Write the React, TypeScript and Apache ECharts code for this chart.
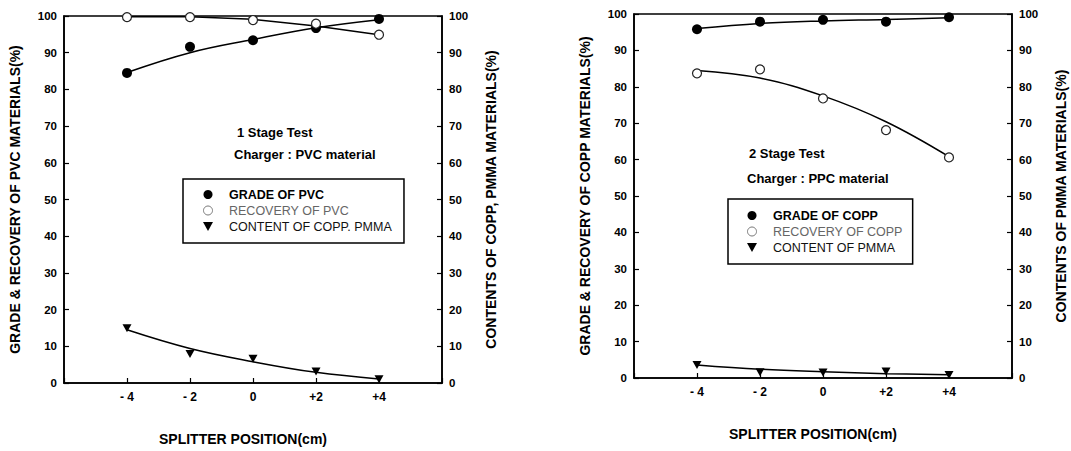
import React, { useEffect, useRef } from 'react';
import * as echarts from 'echarts';

// Splitter positions (cm) and their tick labels
const positions = [-4, -2, 0, 2, 4];
const xTickLabels = ['- 4', '- 2', '0', '+2', '+4'];

// Stage 1 (Charger : PVC material)
const gradePVC = [84.5, 91.6, 93.4, 96.7, 99.2];
const gradePVCFit = [84.6, 90.0, 93.6, 96.8, 99.0];
const recoveryPVC = [99.7, 99.7, 98.9, 97.9, 94.9];
const recoveryPVCFit = [99.8, 99.8, 99.1, 97.3, 94.9];
const contentCoppPmma = [14.9, 7.9, 6.6, 3.1, 1.0];
const contentCoppPmmaFit = [14.5, 9.4, 5.8, 2.9, 1.1];

// Stage 2 (Charger : PPC material)
const gradeCOPP = [95.8, 97.9, 98.4, 97.9, 99.1];
const gradeCOPPFit = [96.0, 97.4, 98.1, 98.5, 99.0];
const recoveryCOPP = [83.7, 84.8, 76.8, 68.1, 60.6];
const recoveryCOPPFit = [84.5, 82.4, 77.5, 70.4, 60.8];
const contentPMMA = [3.6, 1.6, 1.5, 1.8, 0.8];
const contentPMMAFit = [3.6, 2.4, 1.7, 1.2, 0.9];

const FONT = '"Liberation Sans", Arial, Helvetica, sans-serif';
const TRI = 'path://M0,0L10,0L5,9Z';

const pairs = (vals: number[]) => positions.map((p, i) => [p, vals[i]]);

export default function App() {
  const ref = useRef<HTMLDivElement>(null);

  useEffect(() => {
    if (!ref.current) return;
    const chart = echarts.init(ref.current, null, { renderer: 'svg' });

    const grids = [
      { left: 64, top: 16, width: 378, height: 367 },
      { left: 634, top: 14, width: 378, height: 364 },
    ];

    const xAxisFor = (gi: number) => ({
      type: 'value',
      gridIndex: gi,
      min: -6,
      max: 6,
      interval: 2,
      axisLine: { show: true, onZero: false, lineStyle: { color: '#000', width: 1.6 } },
      axisTick: { show: true, inside: true, length: 5, lineStyle: { color: '#000', width: 1.2 } },
      axisLabel: {
        color: '#000',
        fontFamily: FONT,
        fontWeight: 'bold',
        fontSize: 12,
        margin: 8,
        formatter: (v: number) => {
          const i = positions.indexOf(v);
          return i >= 0 ? xTickLabels[i] : '';
        },
      },
      splitLine: { show: false },
      name: 'SPLITTER POSITION(cm)',
      nameLocation: 'middle',
      nameGap: 49,
      nameTextStyle: {
        color: '#000',
        fontFamily: FONT,
        fontWeight: 'bold',
        fontSize: 14,
        padding: [0, 20, 0, 0],
      },
    });

    const yAxisFor = (gi: number, position: 'left' | 'right', name: string) => ({
      type: 'value',
      gridIndex: gi,
      position,
      min: 0,
      max: 100,
      interval: 10,
      axisLine: { show: true, onZero: false, lineStyle: { color: '#000', width: 1.6 } },
      axisTick: { show: true, inside: true, length: 5, lineStyle: { color: '#000', width: 1.2 } },
      axisLabel: {
        color: '#000',
        fontFamily: FONT,
        fontWeight: 'bold',
        fontSize: 11.5,
        margin: 7,
      },
      splitLine: { show: false },
      name,
      nameLocation: 'middle',
      nameRotate: 90,
      nameGap: 42,
      nameTextStyle: {
        color: '#000',
        fontFamily: FONT,
        fontWeight: 'bold',
        fontSize: 14,
      },
    });

    const scatter = (name: string, xi: number, yi: number, vals: number[], kind: 'filled' | 'open' | 'tri') => ({
      name,
      type: 'scatter',
      xAxisIndex: xi,
      yAxisIndex: yi,
      data: pairs(vals),
      symbol: kind === 'tri' ? TRI : 'circle',
      symbolSize: kind === 'tri' ? [9, 8] : kind === 'filled' ? 10 : 9,
      itemStyle:
        kind === 'open'
          ? { color: '#fff', borderColor: '#222', borderWidth: 1.2, opacity: 1 }
          : { color: '#000', opacity: 1 },
      z: 4,
    });

    const fit = (name: string, xi: number, yi: number, vals: number[], smooth: boolean) => ({
      name,
      type: 'line',
      xAxisIndex: xi,
      yAxisIndex: yi,
      data: pairs(vals),
      smooth: smooth ? 0.4 : false,
      showSymbol: false,
      symbol: 'none',
      lineStyle: { color: '#000', width: 1.5 },
      silent: true,
      z: 3,
    });

    const legendFor = (left: number, top: number, names: string[], pad: number[]) => ({
      orient: 'vertical',
      left,
      top,
      padding: pad,
      itemGap: 3,
      itemWidth: 10,
      itemHeight: 9,
      borderColor: '#000',
      borderWidth: 1.5,
      backgroundColor: '#fff',
      selectedMode: false,
      textStyle: {
        fontFamily: FONT,
        fontSize: 12.5,
        lineHeight: 13,
        color: '#111',
        padding: [0, 0, 0, 11],
      },
      data: [
        {
          name: names[0],
          icon: 'circle',
          itemStyle: { color: '#000', opacity: 1 },
          textStyle: { fontWeight: 'bold', color: '#000' },
        },
        {
          name: names[1],
          icon: 'circle',
          itemStyle: { color: '#fff', borderColor: '#777', borderWidth: 1, opacity: 1 },
          textStyle: { color: '#666' },
        },
        {
          name: names[2],
          icon: TRI,
          itemStyle: { color: '#000', opacity: 1 },
          textStyle: { color: '#111' },
        },
      ],
    });

    const annotation = (left: number, top: number, text: string) => ({
      type: 'text',
      left,
      top,
      style: { text, fill: '#000', font: `bold 13px ${FONT}` },
    });

    const names1 = ['GRADE OF PVC', 'RECOVERY OF PVC', 'CONTENT OF COPP. PMMA'];
    const names2 = ['GRADE OF COPP', 'RECOVERY OF COPP', 'CONTENT OF PMMA'];

    chart.setOption({
      animation: false,
      backgroundColor: '#fff',
      grid: grids.map((g) => ({ ...g, show: true, borderColor: '#000', borderWidth: 1.6, containLabel: false })),
      xAxis: [xAxisFor(0), xAxisFor(1)],
      yAxis: [
        yAxisFor(0, 'left', 'GRADE & RECOVERY OF PVC MATERIALS(%)'),
        yAxisFor(0, 'right', 'CONTENTS OF COPP, PMMA MATERIALS(%)'),
        yAxisFor(1, 'left', 'GRADE & RECOVERY OF COPP MATERIALS(%)'),
        yAxisFor(1, 'right', 'CONTENTS OF PMMA MATERIALS(%)'),
      ],
      legend: [
        legendFor(183, 179, names1, [9, 12, 10, 20]),
        legendFor(728, 199, names2, [10, 10, 10, 19]),
      ],
      graphic: [
        annotation(237, 126, '1 Stage Test'),
        annotation(234, 148, 'Charger : PVC material'),
        annotation(749, 147, '2 Stage Test'),
        annotation(747, 172, 'Charger : PPC material'),
      ],
      series: [
        scatter(names1[0], 0, 0, gradePVC, 'filled'),
        scatter(names1[1], 0, 0, recoveryPVC, 'open'),
        scatter(names1[2], 0, 1, contentCoppPmma, 'tri'),
        fit(names1[0], 0, 0, gradePVCFit, true),
        fit(names1[1], 0, 0, recoveryPVCFit, false),
        fit(names1[2], 0, 1, contentCoppPmmaFit, true),
        scatter(names2[0], 1, 2, gradeCOPP, 'filled'),
        scatter(names2[1], 1, 2, recoveryCOPP, 'open'),
        scatter(names2[2], 1, 3, contentPMMA, 'tri'),
        fit(names2[0], 1, 2, gradeCOPPFit, true),
        fit(names2[1], 1, 2, recoveryCOPPFit, true),
        fit(names2[2], 1, 3, contentPMMAFit, true),
      ],
    });

    return () => chart.dispose();
  }, []);

  return (
    <div
      ref={ref}
      style={{ position: 'absolute', left: 0, top: 0, width: 1071, height: 451, background: '#fff' }}
    />
  );
}
